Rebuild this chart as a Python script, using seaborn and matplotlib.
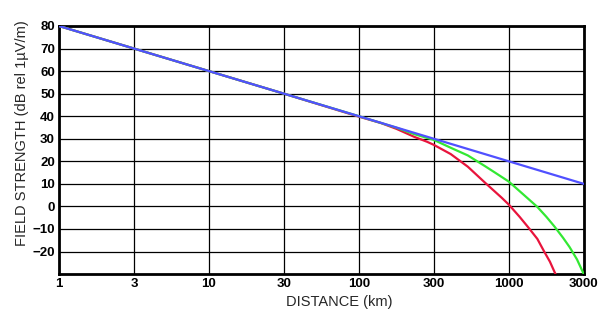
import matplotlib
matplotlib.use("Agg")
import matplotlib.pyplot as plt
import seaborn as sns
import pandas as pd

# Tick labels (positions are half-decades on the log axis)
x_tick_labels = ["1", "3", "10", "30", "100", "300", "1000", "3000"]
y_ticks = [80, 70, 60, 50, 40, 30, 20, 10, 0, -10, -20]

# Series (distance in km, field strength in dB rel 1uV/m)
blue_km = [1, 3.162, 10, 31.62, 100, 316.2, 1000, 3162]
blue_db = [80, 70, 60, 50, 40, 30, 20, 10]

red_km = [1, 31.6, 100, 140, 178, 235, 284, 316, 410, 533, 692, 898, 1000,
          1180, 1360, 1550, 1718, 1880, 2010, 2050]
red_db = [80, 50, 39.8, 37.0, 34.4, 30.8, 28.7, 27.3, 23.2, 17.6, 10.6, 3.8, 0.8,
          -4.6, -9.6, -14.4, -19.9, -24.5, -28.8, -30]

green_km = [1, 31.6, 100, 178, 235, 316, 410, 533, 692, 809, 1000, 1250, 1549,
            1780, 2010, 2300, 2541, 2850, 3162]
green_db = [80, 50, 40, 34.9, 32.0, 29.5, 26.0, 22.6, 17.9, 15.0, 11.0, 5.3, -0.2,
            -4.6, -8.8, -13.9, -18, -23.5, -30]

sns.set_style("white")
plt.rcParams['font.family'] = ['Liberation Sans', 'DejaVu Sans']

fig = plt.figure(figsize=(6.10, 3.31), dpi=100)
ax = fig.add_axes([0.0967, 0.172, 0.957 - 0.0967, 0.9215 - 0.172])

df_r = pd.DataFrame({"d": red_km, "v": red_db})
df_g = pd.DataFrame({"d": green_km, "v": green_db})
df_b = pd.DataFrame({"d": blue_km, "v": blue_db})

sns.lineplot(data=df_r, x="d", y="v", ax=ax, color="#e8143c", lw=1.6, sort=False, zorder=3)
sns.lineplot(data=df_g, x="d", y="v", ax=ax, color="#33e833", lw=1.6, sort=False, zorder=3)
sns.lineplot(data=df_b, x="d", y="v", ax=ax, color="#5050ff", lw=1.6, sort=False, zorder=4)

ax.set_xscale("log")
xt = [10 ** (k / 2) for k in range(len(x_tick_labels))]
ax.set_xlim(xt[0], xt[-1])
ax.set_ylim(-30, 80)
ax.set_xticks(xt)
ax.set_xticklabels(x_tick_labels, fontweight="bold", fontsize=9.5)
ax.xaxis.set_minor_locator(matplotlib.ticker.NullLocator())
ax.set_yticks(y_ticks)
ax.set_yticklabels([str(v).replace("-", "\u2212") for v in y_ticks], fontweight="bold", fontsize=9.5)
ax.tick_params(length=0, pad=3, colors="black")
ax.grid(True, color="black", lw=0.9)
ax.set_axisbelow(True)
for s in ax.spines.values():
    s.set_color("black")
    s.set_linewidth(2)
    s.set_visible(True)

ax.set_xlabel("DISTANCE (km)", fontsize=10.5, labelpad=1)
ax.xaxis.set_label_coords(0.535, -0.085)
ax.set_ylabel("FIELD STRENGTH (dB rel 1\u00b5V/m)", fontsize=10.5, labelpad=4)
ax.yaxis.set_label_coords(-0.057, 0.569)

fig.savefig("out.png", dpi=100, facecolor="white")
